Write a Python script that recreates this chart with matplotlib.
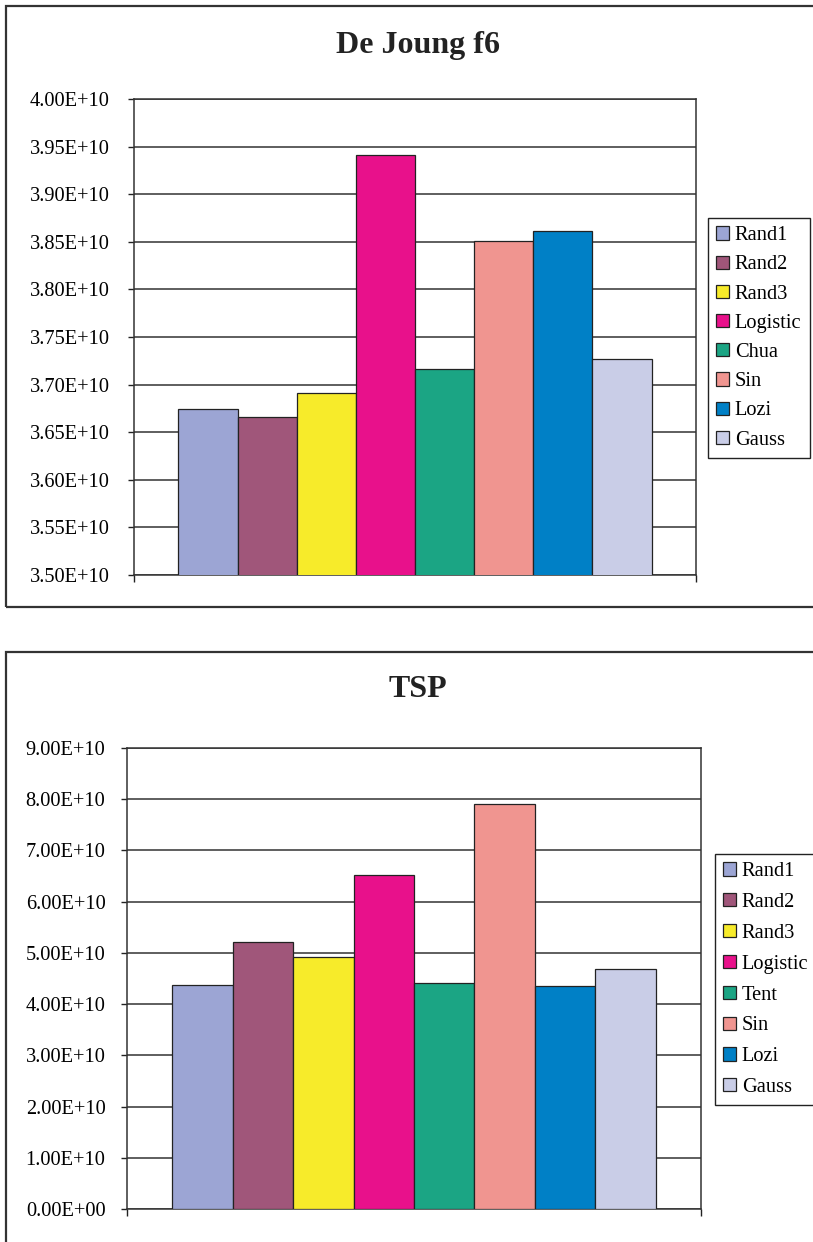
import matplotlib
matplotlib.use("Agg")
import matplotlib.pyplot as plt
import numpy as np
from matplotlib.patches import Rectangle, Patch
from matplotlib.ticker import FuncFormatter

plt.rcParams['font.family'] = ['Liberation Serif', 'DejaVu Serif']

# De Joung f6 results
f6_names = ['Rand1', 'Rand2', 'Rand3', 'Logistic', 'Chua', 'Sin', 'Lozi', 'Gauss']
f6_values = [3.674e10, 3.666e10, 3.691e10, 3.941e10, 3.716e10, 3.851e10, 3.861e10, 3.727e10]
f6_ticks = [3.50e10, 3.55e10, 3.60e10, 3.65e10, 3.70e10, 3.75e10, 3.80e10, 3.85e10, 3.90e10, 3.95e10, 4.00e10]

# TSP results
tsp_names = ['Rand1', 'Rand2', 'Rand3', 'Logistic', 'Tent', 'Sin', 'Lozi', 'Gauss']
tsp_values = [4.38e10, 5.22e10, 4.91e10, 6.51e10, 4.41e10, 7.91e10, 4.35e10, 4.685e10]
tsp_ticks = [0, 1e10, 2e10, 3e10, 4e10, 5e10, 6e10, 7e10, 8e10, 9e10]

colors = ['#9CA5D4', '#A0567A', '#F7EB2A', '#E8118B', '#1BA584', '#F09590', '#0080C6', '#C9CDE7']

W, H = 813, 1242
fig = plt.figure(figsize=(W / 100, H / 100), dpi=100)


def fx(px):
    return px / W


def fy(py):
    return 1 - py / H


def panel(box, ax_box, title, title_y, names, values, ticks, legend_xy, pad, spacing):
    x0, y0, x1, y1 = box
    fig.patches.append(Rectangle((fx(x0), fy(y1)), fx(x1) - fx(x0), fy(y0) - fy(y1),
                                 transform=fig.transFigure, fill=False,
                                 ec='#333333', lw=1.6))
    l, t, r, b = ax_box
    ax = fig.add_axes([fx(l), fy(b), fx(r) - fx(l), fy(t) - fy(b)])
    x = np.arange(len(values))
    ax.bar(x, values, width=1.0, color=colors, edgecolor='#222222', lw=0.9, zorder=3)
    ax.set_xlim(-1.25, len(values) + 0.25)
    ax.set_ylim(ticks[0], ticks[-1])
    ax.set_yticks(ticks)
    ax.yaxis.set_major_formatter(FuncFormatter(lambda v, p: f"{v:.2E}"))
    ax.set_xticks([-1.25, len(values) + 0.25])
    ax.set_xticklabels([])
    ax.tick_params(axis='y', direction='out', length=4, width=1, color='#222222',
                   labelsize=14.7, pad=pad)
    ax.tick_params(axis='x', direction='out', length=5, width=1, color='#222222')
    ax.grid(axis='y', color='#333333', lw=1.1, zorder=0)
    for s in ax.spines.values():
        s.set_color('#333333')
        s.set_linewidth(1.1)
    fig.text(fx(418), fy(title_y), title, ha='center', va='baseline',
             fontsize=23, fontweight='bold', color='#222222')
    handles = [Patch(facecolor=c, edgecolor='#222222', lw=0.9) for c in colors]
    leg = fig.legend(handles, names, loc='upper left',
                     bbox_to_anchor=(fx(legend_xy[0]), fy(legend_xy[1])),
                     bbox_transform=fig.transFigure, fontsize=14.7,
                     handlelength=0.62, handleheight=0.62, handletextpad=0.3,
                     borderpad=0.4, labelspacing=spacing, borderaxespad=0,
                     fancybox=False, framealpha=1)
    leg.get_frame().set_edgecolor('#222222')
    leg.get_frame().set_linewidth(1.0)
    return ax


panel((6, 5.7, 830, 607), (134, 99.3, 696, 574.7), 'De Joung f6', 52.7,
      f6_names, f6_values, f6_ticks, (708, 218), 13.5, 0.5)
panel((6, 652, 830, 1270), (127, 747.7, 701, 1209.3), 'TSP', 697,
      tsp_names, tsp_values, tsp_ticks, (715, 854), 11.5, 0.58)

fig.savefig('out.png', dpi=100)
